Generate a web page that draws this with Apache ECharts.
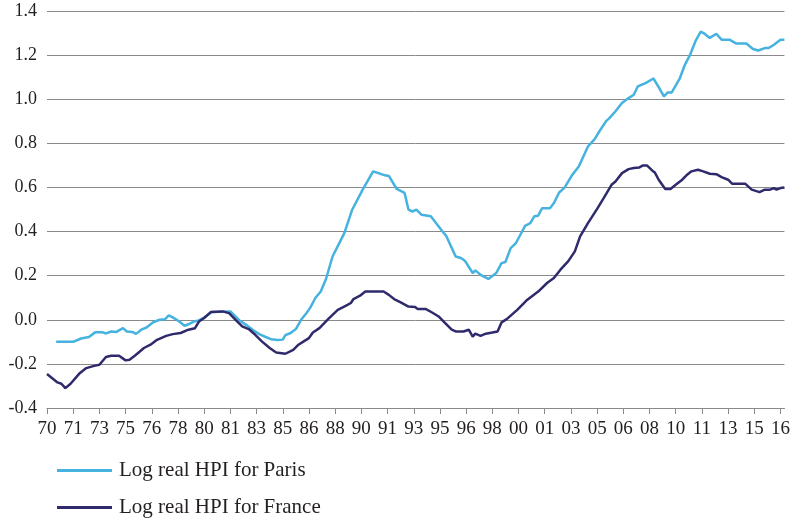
<!DOCTYPE html>
<html>
<head>
<meta charset="utf-8">
<script src="https://cdn.jsdelivr.net/npm/echarts@6/dist/echarts.min.js"></script>
<style>
  html, body { margin: 0; padding: 0; background: #fff; }
  #chart { width: 793px; height: 519px; }
</style>
</head>
<body>
<div id="chart"></div>
<script>
// x = months since Jan 1970, y = log real HPI
const tickLabels = ['70', '71', '73', '75', '76', '78', '80', '81', '83', '85', '86', '88', '90', '91',
  '93', '95', '96', '98', '00', '01', '03', '05', '06', '08', '10', '11', '13', '15', '16']
const TICK_STEP = 20 // months between labels

const parisHpi = [
  [7, -0.10], [20, -0.10], [26, -0.085], [32, -0.078], [37, -0.056], [42, -0.056], [45, -0.062],
  [49, -0.053], [53, -0.055], [58, -0.038], [61, -0.053], [65, -0.055], [68, -0.064], [72, -0.045],
  [76, -0.035], [81, -0.011], [86, 0.0], [90, 0.002], [93, 0.02], [96, 0.011], [101, -0.008],
  [105, -0.027], [109, -0.018], [112, -0.008], [116, -0.003], [120, 0.01], [126, 0.035], [131, 0.036],
  [140, 0.038], [147, -0.003], [152, -0.023], [157, -0.045], [162, -0.065], [167, -0.078], [171, -0.088],
  [176, -0.092], [180, -0.09], [182, -0.07], [186, -0.06], [190, -0.042], [194, 0.0], [198, 0.03],
  [201, 0.055], [205, 0.1], [209, 0.128], [213, 0.185], [218, 0.287], [227, 0.393], [233, 0.499],
  [241, 0.59], [249, 0.673], [253, 0.665], [258, 0.655], [261, 0.652], [267, 0.593], [273, 0.575],
  [276, 0.499], [279, 0.491], [282, 0.499], [286, 0.476], [293, 0.469], [298, 0.431], [302, 0.40],
  [305, 0.378], [312, 0.287], [316, 0.28], [319, 0.268], [325, 0.212], [327, 0.224], [331, 0.204],
  [337, 0.185], [343, 0.212], [347, 0.257], [350, 0.262], [354, 0.325], [358, 0.348], [361, 0.381],
  [365, 0.426], [369, 0.438], [372, 0.469], [375, 0.472], [378, 0.506], [384, 0.506], [387, 0.529],
  [391, 0.577], [395, 0.598], [401, 0.657], [406, 0.695], [413, 0.786], [418, 0.818], [422, 0.857],
  [427, 0.902], [429, 0.912], [434, 0.945], [439, 0.983], [444, 1.005], [448, 1.02], [451, 1.058],
  [457, 1.073], [463, 1.094], [467, 1.055], [471, 1.013], [474, 1.031], [477, 1.031], [483, 1.093],
  [487, 1.156], [491, 1.202], [495, 1.262], [499, 1.306], [502, 1.297], [506, 1.278], [511, 1.297],
  [515, 1.27], [521, 1.27], [526, 1.253], [534, 1.253], [539, 1.228], [543, 1.221], [548, 1.232],
  [551, 1.232], [555, 1.247], [560, 1.27], [563, 1.27],
]

const franceHpi = [
  [0, -0.246], [4, -0.265], [8, -0.284], [11, -0.29], [14, -0.31], [18, -0.29], [25, -0.242],
  [30, -0.219], [36, -0.209], [40, -0.204], [45, -0.169], [49, -0.163], [55, -0.163], [60, -0.184],
  [63, -0.181], [67, -0.163], [70, -0.148], [74, -0.128], [79, -0.113], [84, -0.091], [91, -0.073],
  [96, -0.065], [102, -0.06], [108, -0.045], [113, -0.038], [116, -0.008], [120, 0.008], [125, 0.035],
  [134, 0.038], [139, 0.03], [144, 0.0], [149, -0.03], [154, -0.042], [159, -0.068], [164, -0.098],
  [170, -0.128], [175, -0.148], [182, -0.154], [188, -0.136], [192, -0.113], [196, -0.098],
  [200, -0.083], [203, -0.058], [208, -0.038], [215, 0.005], [222, 0.045], [228, 0.063], [232, 0.076],
  [234, 0.094], [239, 0.109], [243, 0.128], [253, 0.128], [257, 0.128], [261, 0.113], [265, 0.094],
  [270, 0.079], [276, 0.06], [281, 0.058], [283, 0.049], [289, 0.049], [294, 0.033], [299, 0.015],
  [304, -0.015], [309, -0.045], [312, -0.053], [318, -0.053], [322, -0.045], [325, -0.076],
  [327, -0.063], [331, -0.073], [335, -0.063], [340, -0.058], [344, -0.053], [347, -0.012],
  [351, 0.003], [359, 0.045], [366, 0.087], [372, 0.115], [375, 0.128], [382, 0.168], [387, 0.189],
  [392, 0.227], [398, 0.266], [403, 0.31], [407, 0.378], [413, 0.438], [420, 0.503], [425, 0.552],
  [431, 0.612], [434, 0.627], [439, 0.665], [444, 0.683], [448, 0.688], [452, 0.69], [455, 0.70],
  [458, 0.70], [462, 0.677], [464, 0.668], [467, 0.635], [472, 0.593], [476, 0.593], [480, 0.612],
  [485, 0.635], [488, 0.654], [492, 0.673], [497, 0.68], [501, 0.673], [506, 0.662], [511, 0.66],
  [515, 0.647], [520, 0.635], [523, 0.617], [533, 0.617], [538, 0.59], [544, 0.579], [548, 0.59],
  [552, 0.59], [555, 0.597], [557, 0.59], [560, 0.597], [563, 0.60],
]

const PARIS_NAME = 'Log real HPI for Paris'
const FRANCE_NAME = 'Log real HPI for France'
const PARIS_COLOR = '#46b2df'
const FRANCE_COLOR = '#2f2a6c'
const GRID_COLOR = '#8a8a8a'
const TEXT_COLOR = '#231f20'
const FONT = "'Liberation Serif', 'Times New Roman', serif"

const tickValues = tickLabels.map((_, i) => i * TICK_STEP)

function legendRow(name, top) {
  return {
    left: 52,
    top,
    icon: 'rect',
    itemWidth: 55,
    itemHeight: 3,
    textStyle: { fontFamily: FONT, fontSize: 21, color: TEXT_COLOR, padding: [0, 0, 0, 2] },
    data: [name],
  }
}

const chart = echarts.init(document.getElementById('chart'))
chart.setOption({
  animation: false,
  textStyle: { fontFamily: FONT },
  grid: { left: 47, right: 7, top: 11, bottom: 111 },
  legend: [legendRow(PARIS_NAME, 455), legendRow(FRANCE_NAME, 492)],
  xAxis: [
    {
      type: 'value',
      min: 0,
      max: 563,
      axisLine: { show: false },
      axisTick: { show: false },
      splitLine: { show: false },
      axisLabel: {
        customValues: tickValues,
        margin: 12,
        fontSize: 19,
        color: TEXT_COLOR,
        fontFamily: FONT,
        formatter: (v) => tickLabels[Math.round(v / TICK_STEP)] ?? '',
      },
    },
    {
      type: 'value',
      min: 0,
      max: 563,
      position: 'bottom',
      axisLine: { show: true, onZero: true, lineStyle: { color: GRID_COLOR, width: 1 } },
      axisTick: {
        show: true,
        customValues: tickValues,
        inside: false,
        length: 6,
        lineStyle: { color: GRID_COLOR, width: 1 },
      },
      axisLabel: { show: false },
      splitLine: { show: false },
    },
  ],
  yAxis: {
    type: 'value',
    min: -0.4,
    max: 1.4,
    interval: 0.2,
    axisLine: { show: false },
    axisTick: { show: false },
    splitLine: { lineStyle: { color: GRID_COLOR, width: 1 } },
    axisLabel: {
      margin: 10,
      fontSize: 18,
      color: TEXT_COLOR,
      fontFamily: FONT,
      padding: [6, 0, 0, 0],
      formatter: (v) => v.toFixed(1),
    },
  },
  series: [
    {
      name: PARIS_NAME,
      type: 'line',
      xAxisIndex: 0,
      symbol: 'none',
      lineStyle: { color: PARIS_COLOR, width: 2.5 },
      itemStyle: { color: PARIS_COLOR },
      data: parisHpi,
    },
    {
      name: FRANCE_NAME,
      type: 'line',
      xAxisIndex: 0,
      symbol: 'none',
      lineStyle: { color: FRANCE_COLOR, width: 2.5 },
      itemStyle: { color: FRANCE_COLOR },
      data: franceHpi,
    },
  ],
})
</script>
</body>
</html>
